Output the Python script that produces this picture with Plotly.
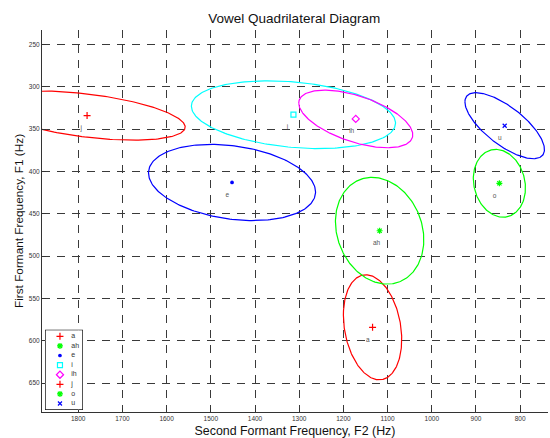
import numpy as np
import plotly.graph_objects as go

# Vowel formant summary: means, spread along each axis and F1/F2 correlation
vowels = ["a", "ah", "e", "i", "ih", "j", "o", "u"]
f2_mean = [1134, 1118, 1452, 1313, 1172, 1780, 847, 835]
f1_mean = [584, 470, 413, 333, 338, 334, 414, 346]
f2_spread = [66, 100, 189, 231, 129, 222, 59, 90]
f1_spread = [62, 63, 45, 40, 34, 29, 40, 39]
f1f2_corr = [-0.23, -0.17, -0.25, -0.25, -0.55, -0.47, -0.14, -0.72]

colors = ["#ff0000", "#00ff00", "#0000ff", "#00ffff", "#ff00ff", "#ff0000", "#00ff00", "#0000ff"]
symbols = ["cross-thin-open", "asterisk-open", "circle", "square-open",
           "diamond-open", "cross-thin-open", "asterisk-open", "x-thin-open"]
sizes = [5, 5, 2.5, 5, 5.5, 5, 5, 4]

x_ticks = list(range(800, 1900, 100))
y_ticks = list(range(250, 700, 50))

FONT = "Liberation Sans, Arial, Helvetica, sans-serif"

fig = go.Figure()

t = np.linspace(0, 2 * np.pi, 241)
for v, m2, m1, s2, s1, r, c in zip(vowels, f2_mean, f1_mean, f2_spread, f1_spread, f1f2_corr, colors):
    ex = m2 + s2 * np.cos(t)
    ey = m1 + s1 * (r * np.cos(t) + np.sqrt(1 - r * r) * np.sin(t))
    fig.add_trace(go.Scatter(x=ex, y=ey, mode="lines", line=dict(color=c, width=1.2),
                             hoverinfo="skip", showlegend=False))

for v, m2, m1, c, s, sz in zip(vowels, f2_mean, f1_mean, colors, symbols, sizes):
    fig.add_trace(go.Scatter(x=[m2], y=[m1], mode="markers", name=v,
                             marker=dict(symbol=s, size=sz, color=c, line=dict(color=c, width=1.2)),
                             showlegend=False))

# vowel names next to their means
fig.add_trace(go.Scatter(x=[m + 15 for m in f2_mean], y=[m + 15 for m in f1_mean],
                         mode="text", text=vowels, textposition="middle right",
                         textfont=dict(family=FONT, size=6.5, color="#555555"),
                         hoverinfo="skip", showlegend=False))

# key box, drawn in its own small axes
fig.add_shape(type="rect", xref="x2 domain", yref="y2 domain", x0=0, x1=1, y0=0, y1=1,
              fillcolor="white", line=dict(color="black", width=1.3), layer="below")
rows = list(range(len(vowels)))
for i, (c, s, sz) in enumerate(zip(colors, symbols, sizes)):
    fig.add_trace(go.Scatter(x=[0.39], y=[rows[i]], mode="markers", xaxis="x2", yaxis="y2",
                             marker=dict(symbol=s, size=sz, color=c, line=dict(color=c, width=1.2)),
                             hoverinfo="skip", showlegend=False))
fig.add_trace(go.Scatter(x=[0.70] * len(vowels), y=rows, mode="text", text=vowels,
                         textposition="middle right", xaxis="x2", yaxis="y2",
                         textfont=dict(family=FONT, size=7, color="#333333"),
                         hoverinfo="skip", showlegend=False))

axis_common = dict(
    showgrid=True, gridcolor="#3a3a3a", gridwidth=1, griddash="8px,7px",
    zeroline=False, showline=True, linecolor="#333333", linewidth=1,
    ticks="inside", ticklen=4, tickcolor="#333333",
    tickfont=dict(family=FONT, size=6.5, color="#333333"),
    title_font=dict(family=FONT, size=12, color="#111111"),
)

fig.update_layout(
    width=550, height=438,
    margin=dict(l=42, r=2, t=30, b=26),
    paper_bgcolor="white", plot_bgcolor="white",
    title=dict(text="Vowel Quadrilateral Diagram", x=0.535, xanchor="center",
               y=1 - 18 / 438, yanchor="middle",
               font=dict(family=FONT, size=13.5, color="#111111")),
    xaxis=dict(axis_common, range=[1882, 737], tickvals=x_ticks,
               title=dict(text="Second Formant Frequency, F2 (Hz)", standoff=6,
                          font=dict(family=FONT, size=12.4, color="#111111"))),
    yaxis=dict(axis_common, range=[684, 233], tickvals=y_ticks,
               title=dict(text="First Formant Frequency, F1 (Hz)", standoff=2,
                          font=dict(family=FONT, size=11.8, color="#111111"))),
    xaxis2=dict(domain=[0.0073, 0.0796], range=[0, 1], anchor="y2",
                showgrid=False, zeroline=False, showticklabels=False, ticks="",
                showline=False, fixedrange=True),
    yaxis2=dict(domain=[0.0071, 0.2139], range=[7.6, -0.625], anchor="x2",
                showgrid=False, zeroline=False, showticklabels=False, ticks="",
                showline=False, fixedrange=True),
    showlegend=False,
)

fig.write_html("out.html")
